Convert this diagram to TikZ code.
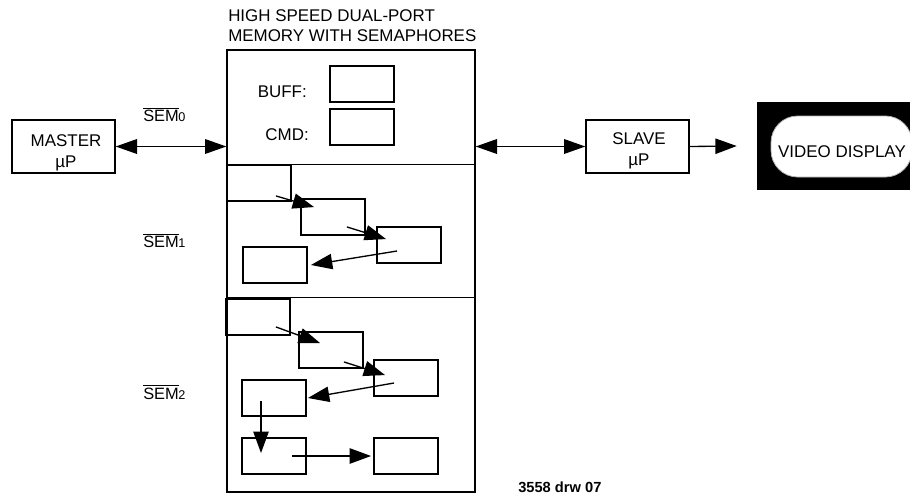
\documentclass[tikz,border=0pt]{standalone}
\usepackage{fontspec}
\setmainfont{Liberation Sans}
\usepackage{tikz}
\usetikzlibrary{arrows.meta,calc}

\tikzset{
  txt/.style={font=\fontsize{12.7}{15.75}\selectfont, inner sep=0pt},
  semtxt/.style={font=\fontsize{12.3}{13}\selectfont, inner sep=0pt, anchor=base west},
  unitbox/.style={draw, line width=1pt, minimum width=77.25pt, minimum height=39.75pt, inner sep=0pt},
  cell/.style={draw, line width=1.4pt, minimum width=48pt, minimum height=27pt, inner sep=0pt},
  regcell/.style={draw, line width=1pt, minimum width=48pt, minimum height=27pt, inner sep=0pt},
  frame/.style={draw, line width=1pt},
  flow/.style={line width=1pt, -{Triangle[length=16pt,width=11.5pt]}},
  bus/.style={line width=1pt, {Triangle[length=16pt,width=11pt]}-{Triangle[length=16pt,width=11pt]}}
}
\newcommand{\semlbl}[1]{$\overline{\mbox{SEM}}$\kern-0.3pt{\fontsize{9.5}{9.5}\selectfont #1}}

\begin{document}
\begin{tikzpicture}[x=0.75pt,y=-0.75pt]
  \useasboundingbox (0,0) rectangle (910,497);

  % Titulo
  \node[txt, anchor=base west] (title) at (228,21) {HIGH SPEED DUAL-PORT};
  \node[txt, anchor=base west] (title2) at (228,41) {MEMORY WITH SEMAPHORES};

  % Memoria
  \node[frame, minimum width=186pt, minimum height=331.5pt, inner sep=0pt] (mem) at (351,271) {};
  \draw[line width=1pt] ($(mem.north west)+(0,115)$) -- ($(mem.north east)+(0,115)$);
  \draw[line width=1pt] ($(mem.north west)+(0,248)$) -- ($(mem.north east)+(0,248)$);

  % Registos
  \node[regcell] (buff) at (362,84) {};
  \node[regcell] (cmd) at (362,127) {};
  \node[txt, anchor=base east] (bufflbl) at (307,97) {BUFF:};
  \node[txt, anchor=base east] (cmdlbl) at (309,140) {CMD:};

  % Blocos
  \foreach \n/\x/\y in {s1a/259/183, s1b/333/217, s1c/409/245, s1d/275/265,
                        s2a/258/317, s2b/331/350, s2c/406/378, s2d/274/398,
                        s2e/274/456, s2f/406/456}
    \node[cell] (\n) at (\x,\y) {};

  % Setas SEM1
  \draw[flow] ($(s1a.south east)+(-16,-6)$) -- ($(s1b.north west)+(14,9)$);
  \draw[flow] ($(s1b.south east)+(-19,-9)$) -- ($(s1c.north west)+(10,13)$);
  \draw[flow] ($(s1c.center)+(-12,6)$) -- ($(s1d.east)+(3,0)$);

  % Setas SEM2
  \draw[flow] ($(s2a.south east)+(-15,-9)$) -- ($(s2b.north west)+(22,12)$);
  \draw[flow] ($(s2b.south east)+(-20,-7)$) -- ($(s2c.north west)+(12,16)$);
  \draw[flow] ($(s2c.center)+(-12,5)$) -- ($(s2d.east)+(1,0)$);
  \draw[flow] ($(s2d.center)+(-13,3)$) -- ($(s2e.center)+(-13,-3)$);
  \draw[flow] ($(s2e.center)+(18,0)$) -- ($(s2f.west)+(-2,0)$);

  % Semaforos
  \node[semtxt] (sem0) at (143,121.5) {\semlbl{0}};
  \node[semtxt] (sem1) at (143,247.5) {\semlbl{1}};
  \node[semtxt] (sem2) at (143,399) {\semlbl{2}};

  % Processadores
  \node[unitbox] (master) at (63.5,146.5) {};
  \node[txt, align=center] (mastertxt) at (66,153) {MASTER\\µP};
  \node[unitbox] (slave) at (637.5,146.5) {};
  \node[txt, align=center] (slavetxt) at (639,151) {SLAVE\\µP};

  % Monitor
  \node[fill=black, minimum width=114.75pt, minimum height=66pt, inner sep=0pt] (video) at (833.5,146) {};
  \node[draw=gray!60, line width=0.6pt, fill=white, rounded corners=20pt,
        minimum width=105.75pt, minimum height=45.75pt, inner sep=0pt] (screen) at (841.5,146.5) {};
  \node[txt] (videotxt) at (842,151.5) {VIDEO DISPLAY};
  \coordinate (vidin) at ($(video.west)+(-20,0)$);

  % Ligacoes
  \draw[bus] (master.east) -- (master.east -| mem.west);
  \draw[bus] (slave.west -| mem.east) -- (slave.west);
  \draw[flow] (slave.east) -- (vidin);

  % Referencia
  \node[font=\bfseries\fontsize{11}{13}\selectfont, inner sep=0pt, anchor=base west] (drw) at (518,492) {3558 drw 07};
\end{tikzpicture}
\end{document}
